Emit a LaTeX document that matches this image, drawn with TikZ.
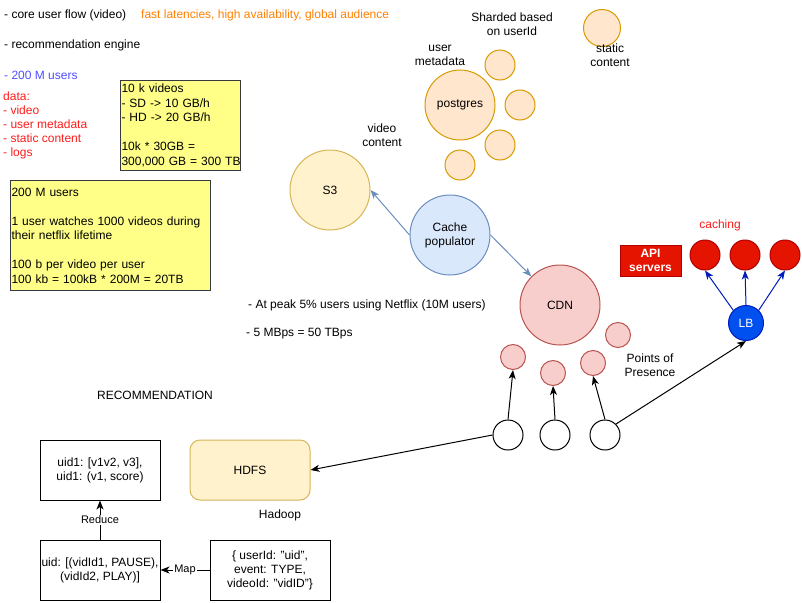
\documentclass[tikz,border=0pt]{standalone}
\usepackage{fontspec}
\setmainfont{Liberation Sans}
\usetikzlibrary{arrows.meta}
\definecolor{notefill}{HTML}{FFFF88}
\definecolor{notedraw}{HTML}{36393D}
\definecolor{sfill}{HTML}{FFF2CC}
\definecolor{sdraw}{HTML}{D6B656}
\definecolor{pgfill}{HTML}{FFE6CC}
\definecolor{pgdraw}{HTML}{D79B00}
\definecolor{cpfill}{HTML}{DAE8FC}
\definecolor{cpdraw}{HTML}{6C8EBF}
\definecolor{cdnfill}{HTML}{F8CECC}
\definecolor{cdndraw}{HTML}{B85450}
\definecolor{apifill}{HTML}{E51400}
\definecolor{apidraw}{HTML}{B20000}
\definecolor{lbfill}{HTML}{0050EF}
\definecolor{lbdraw}{HTML}{001DBC}
\definecolor{orangetext}{HTML}{FF8000}
\definecolor{bluetext}{HTML}{4D4DFF}
\definecolor{redtext}{HTML}{FF1A1A}
\tikzset{
	txt/.style={inner sep=0pt, font=\fontsize{12}{14}\selectfont, align=center},
	ltxt/.style={txt, anchor=west, align=left},
	note/.style={draw=notedraw, fill=notefill, line width=1pt, inner xsep=1pt, inner ysep=2pt, anchor=north west, align=left, font=\fontsize{12}{14.5}\selectfont},
	dot/.style={circle, line width=1pt, inner sep=0pt, minimum size=#1, font=\fontsize{12}{14}\selectfont, align=center},
	s3dot/.style={dot=#1, draw=sdraw, fill=sfill},
	pgdot/.style={dot=#1, draw=pgdraw, fill=pgfill},
	cdndot/.style={dot=#1, draw=cdndraw, fill=cdnfill},
	reddot/.style={dot=30pt, draw=apidraw, fill=apifill},
	userdot/.style={dot=30pt, draw=black, fill=white},
	mrbox/.style={draw=black, line width=1pt, minimum width=120pt, minimum height=60pt, inner sep=0pt, font=\fontsize{12}{14}\selectfont, align=center},
	arr/.style={-{Stealth[length=9pt,width=7pt,inset=2.5pt]}, line width=1pt},
	lbl/.style={midway, fill=white, inner sep=1pt, font=\fontsize{11}{13}\selectfont}
}
\begin{document}
\begin{tikzpicture}[x=1pt,y=-1pt]
	\useasboundingbox (0,0) rectangle (802,602);
	\node[ltxt] (coreflow) at (4,15) {- core user flow (video)};
	\node[ltxt, text=orangetext] (goals) at (141,15) {fast latencies, high availability, global audience};
	\node[ltxt] (recengine) at (4,45) {- recommendation engine};
	\node[ltxt, text=bluetext] (users) at (4,75) {- 200 M users};
	\node[ltxt, text=redtext] (data) at (3,125) {data:\\- video\\- user metadata\\- static content\\- logs};
	\node[note, text width=118pt, minimum height=90pt] (videonote) at (120,80) {10 k videos\\- SD -> 10 GB/h\\- HD -> 20 GB/h\\[14.5pt]10k * 30GB =\\300,000~GB~=~300~TB};
	\node[note, text width=198pt, minimum height=110pt] (usernote) at (10,180) {200 M users\\[14.5pt]1 user watches 1000 videos during\\their netflix lifetime\\[14.5pt]100 b per video per user\\100 kb = 100kB * 200M = 20TB};

	\node[s3dot=80pt] (s3) at (330,190) {S3};
	\node[txt] (videolbl) at (382,135.5) {video\\content};
	\node[pgdot=70pt] (postgres) at (460,105) {postgres};
	\node[txt] (metalbl) at (440,55.5) {user\\metadata};
	\node[txt] (shardlbl) at (512,24.5) {Sharded based\\on userId};
	\node[pgdot=30pt] (shard1) at (500,65) {};
	\node[pgdot=30pt] (shard2) at (520,105) {};
	\node[pgdot=30pt] (shard3) at (500,145) {};
	\node[pgdot=30pt] (shard4) at (460,165) {};
	\node[pgdot=37pt] (static) at (602,28) {};
	\node[txt] (staticlbl) at (610,55.5) {static\\content};

	\node[dot=80pt, draw=cpdraw, fill=cpfill] (cache) at (450,235) {Cache\\populator};
	\node[cdndot=80pt] (cdn) at (560,305) {CDN};
	\node[cdndot=25pt] (pop1) at (513,357) {};
	\node[cdndot=25pt] (pop2) at (553,373) {};
	\node[cdndot=25pt] (pop3) at (593,363) {};
	\node[cdndot=25pt] (pop4) at (618,335) {};
	\node[txt] (poplbl) at (650,365) {Points of\\Presence};
	\node[ltxt] (peak) at (248,305) {- At peak 5\% users using Netflix (10M users)};
	\node[ltxt] (bandwidth) at (246,334) {- 5 MBps = 50 TBps};

	\node[draw=apidraw, fill=apifill, line width=1pt, minimum width=61pt, minimum height=31pt, inner sep=0pt, text=white, align=center, font=\bfseries\fontsize{12}{14}\selectfont] (api) at (650.5,260.5) {API\\servers};
	\node[txt, text=redtext] (cachinglbl) at (720,225) {caching};
	\node[reddot] (cache1) at (705,255) {};
	\node[reddot] (cache2) at (745,255) {};
	\node[reddot] (cache3) at (785,255) {};
	\node[dot=35pt, draw=lbdraw, fill=lbfill, text=white] (lb) at (746,323) {LB};

	\node[userdot] (user1) at (508,435) {};
	\node[userdot] (user2) at (555,435) {};
	\node[userdot] (user3) at (605,435) {};

	\node[txt] (reclbl) at (155,395) {RECOMMENDATION};
	\node[draw=sdraw, fill=sfill, line width=1pt, rounded corners=10pt, minimum width=120pt, minimum height=60pt, font=\fontsize{12}{14}\selectfont] (hdfs) at (250,470) {HDFS};
	\node[txt] (hadooplbl) at (280,515) {Hadoop};
	\node[mrbox] (reduced) at (100,470) {uid1: [v1v2, v3],\\uid1: (v1, score)};
	\node[mrbox] (mapped) at (100,570) {uid: [(vidId1, PAUSE),\\(vidId2, PLAY)]};
	\node[mrbox] (event) at (270,570) {\{ userId: "uid",\\event: TYPE,\\videoId: "vidID"\}};

	\draw[arr, cpdraw] (cache.west) -- (s3.east);
	\draw[arr, cpdraw] (cache.east) -- (cdn.north west);
	\draw[arr] (user1.north) -- (pop1.south);
	\draw[arr] (user2.north) -- (pop2.south);
	\draw[arr] (user3.north) -- (pop3.south);
	\draw[arr] (user3.north east) -- (lb.south);
	\draw[arr] (user1.west) -- (hdfs.east);
	\draw[arr, lbdraw] (lb.north west) -- (cache1.south);
	\draw[arr, lbdraw] (lb.north) -- (cache2.south);
	\draw[arr, lbdraw] (lb.north east) -- (cache3.south);
	\draw[arr] (mapped.north) -- node[lbl] {Reduce} (reduced.south);
	\draw[arr] (event.west) -- node[lbl] {Map} (mapped.east);
\end{tikzpicture}
\end{document}
